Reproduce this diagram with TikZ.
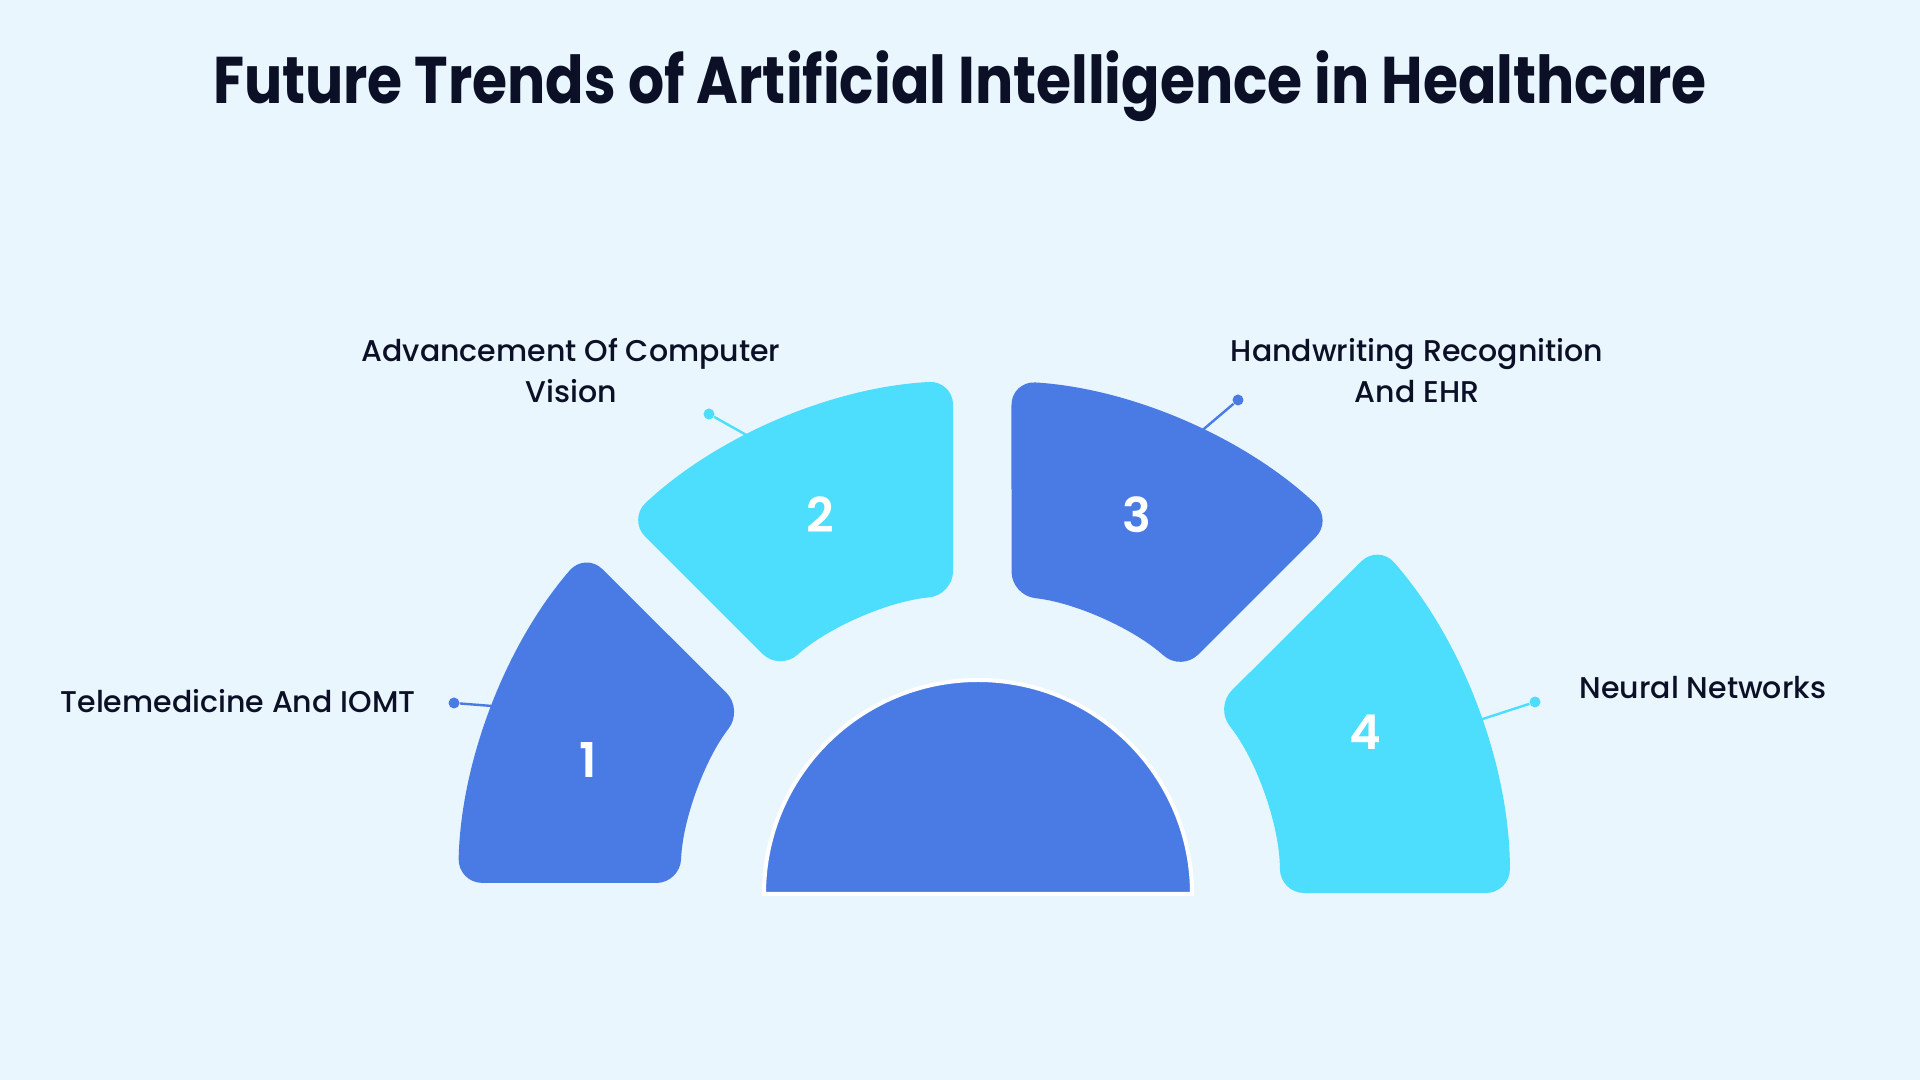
\documentclass[tikz,border=0pt]{standalone}
\usepackage{fontspec}
\setmainfont{Poppins}
\newfontfamily\titlefont{Poppins}[FakeStretch=0.86]
\newfontfamily\labelfont{Poppins Medium}
\newfontfamily\numfont{Poppins SemiBold}
\usetikzlibrary{positioning}

\definecolor{bgcol}{HTML}{EAF6FE}
\definecolor{segblue}{HTML}{4A7BE5}
\definecolor{segcyan}{HTML}{4DDDFD}
\definecolor{inkcol}{HTML}{0B1026}

\begin{document}
\begin{tikzpicture}[x=0.5pt, y=0.5pt,
    seg/.style={rounded corners=12pt},
    num/.style={text=white, font=\numfont\fontsize{24}{28}\selectfont},
    lbl/.style={text=inkcol, font=\labelfont\fontsize{15}{20.5}\selectfont, align=center, anchor=base},
    dot/.style={circle, fill, inner sep=0pt, minimum size=5.5pt},
    link/.style={line width=1.2pt}]

\fill[bgcol] (0,0) rectangle (1920,1080);
\useasboundingbox (0,0) rectangle (1920,1080);

% Title
\node[text=inkcol, font=\titlefont\bfseries\fontsize{33}{40}\selectfont, anchor=base] (title) at (960,976) {Future Trends of Artificial Intelligence in Healthcare};

% Ring segments
\begin{scope}[shift={(980,186)}]
\fill[segblue, seg] (178.78:522) arc[start angle=178.78, end angle=139.10, radius=522] -- (142.08:300) arc[start angle=142.08, end angle=177.90, radius=300] -- cycle;
\fill[segcyan, seg] (133.22:514) arc[start angle=133.22, end angle=93.01, radius=514] -- (95.16:300) arc[start angle=95.16, end angle=131.94, radius=300] -- cycle;
\fill[segblue, seg] (86.49:514) arc[start angle=86.49, end angle=46.67, radius=514] -- (47.87:300) arc[start angle=47.87, end angle=83.97, radius=300] -- cycle;
\fill[segcyan, seg] (41.27:530) arc[start angle=41.27, end angle=0.11, radius=530] -- (0.19:300) arc[start angle=0.19, end angle=38.49, radius=300] -- cycle;
\coordinate (e1) at (158.9:522);
\coordinate (e2) at (116.9:514);
\coordinate (e3) at (64.4:514);
\coordinate (e4) at (19.2:530);
\end{scope}

% Half disc
\draw[fill=segblue, draw=white, line width=2pt] (764,186) arc[start angle=180, end angle=0, radius=214] -- cycle;

% Numbers
\node[num] (n1) at (588,320) {1};
\node[num] (n2) at (820,565) {2};
\node[num] (n3) at (1137,565) {3};
\node[num] (n4) at (1365,348) {4};

% Labels
\node[lbl] (l1) at (238,367) {Telemedicine And IOMT};
\node[lbl] (l2) at (571,677) {Advancement Of Computer\\Vision};
\node[lbl] (l3) at (1417,677) {Handwriting Recognition\\And EHR};
\node[lbl] (l4) at (1703,381) {Neural Networks};

% Pointers
\node[dot, segblue] (d1) at (454,377) {};
\node[dot, segcyan] (d2) at (709,666) {};
\node[dot, segblue] (d3) at (1238,680) {};
\node[dot, segcyan] (d4) at (1535,378) {};
\draw[link, segblue] (d1) -- (e1);
\draw[link, segcyan] (d2) -- (e2);
\draw[link, segblue] (d3) -- (e3);
\draw[link, segcyan] (d4) -- (e4);
\end{tikzpicture}
\end{document}
